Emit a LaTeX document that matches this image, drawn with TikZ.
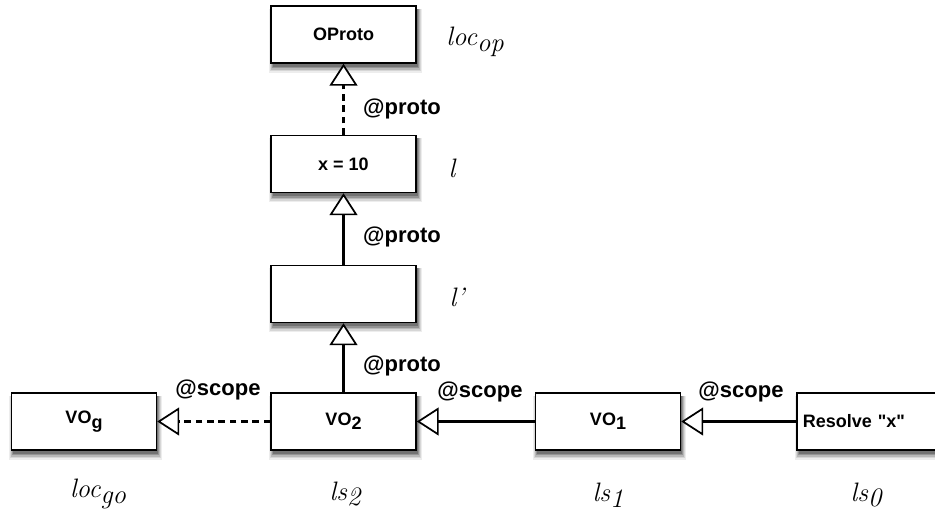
\documentclass[tikz,border=0pt]{standalone}
\usepackage{fontspec}
\setsansfont{Liberation Sans}
\newfontfamily\plainsans[Ligatures=TeXOff]{Liberation Sans}
\usetikzlibrary{arrows.meta,calc}
\begin{document}
\begin{tikzpicture}[x=0.75pt,y=-0.75pt,
  box/.style={draw=black, line width=1.1pt, fill=white, minimum width=108.75pt, minimum height=42.75pt, inner sep=0pt,
    font=\sffamily\bfseries\fontsize{13.5}{15}\selectfont},
  shd/.style={fill=black!#1, draw=none},
  conn/.style={line width=1.6pt, -{Triangle[open, length=16.5pt, width=21pt, line width=1.3pt, fill=white]}},
  dsh/.style={dash pattern=on 5pt off 3.5pt},
  lab/.style={font=\sffamily\bfseries\fontsize{16.5}{18}\selectfont, inner sep=0pt},
  side/.style={font=\itshape\fontsize{20}{22}\selectfont, inner sep=0pt}]
\useasboundingbox (0,0) rectangle (935,522);
\coordinate (cop) at (343.5,34.5);
\coordinate (cx) at (343.5,164);
\coordinate (clp) at (343.5,294);
\coordinate (cvog) at (84,421.5);
\coordinate (cvo2) at (343.5,421.5);
\coordinate (cvo1) at (608,421.5);
\coordinate (cres) at (869.5,421.5);
\foreach \c in {cop,cx,clp,cvog,cvo2,cvo1,cres}{
  \fill[shd=7]  ($(\c)+(-75,-26)$) rectangle ($(\c)+(78,38)$);
  \fill[shd=16] ($(\c)+(-74,-26)$) rectangle ($(\c)+(77,36.5)$);
  \fill[shd=28] ($(\c)+(-73,-26)$) rectangle ($(\c)+(76,35)$);
  \fill[shd=42] ($(\c)+(-72,-26)$) rectangle ($(\c)+(75,33.5)$);
  \fill[shd=55] ($(\c)+(-71,-26)$) rectangle ($(\c)+(74,32)$);
}
\node[box] (op) at (cop) {OProto};
\node[box] (x) at (cx) {x = 10};
\node[box] (lp) at (clp) {};
\node[box] (vog) at (cvog) {VO\raisebox{-0.45ex}{g}};
\node[box] (vo2) at (cvo2) {VO\raisebox{-0.45ex}{2}};
\node[box] (vo1) at (cvo1) {VO\raisebox{-0.45ex}{1}};
\node[box, text width=100pt, align=left] (res) at (cres) {\plainsans\bfseries Resolve "x"};
\draw[conn, dsh] (x.north) -- (op.south);
\draw[conn] (lp.north) -- (x.south);
\draw[conn] (vo2.north) -- (lp.south);
\draw[conn, dsh] (vo2.west) -- (vog.east);
\draw[conn] (vo1.west) -- (vo2.east);
\draw[conn] (res.west) -- (vo1.east);
\node[lab] (p1) at (402,109) {@proto};
\node[lab] (p2) at (402,237) {@proto};
\node[lab] (p3) at (402,366) {@proto};
\node[lab] (s1) at (218,390) {@scope};
\node[lab] (s2) at (480,392) {@scope};
\node[lab] (s3) at (741,392) {@scope};
\node[side] (Lop) at (475,42) {loc\raisebox{-0.5ex}{op}};
\node[side] (Ll) at (452,168) {l};
\node[side] (Llp) at (457,297) {l'};
\node[side] (Lgo) at (98,494) {loc\raisebox{-0.5ex}{go}};
\node[side] (L2) at (345,494) {ls\raisebox{-0.5ex}{2}};
\node[side] (L1) at (608,495) {ls\raisebox{-0.5ex}{1}};
\node[side] (L0) at (866,495) {ls\raisebox{-0.5ex}{0}};
\end{tikzpicture}
\end{document}
